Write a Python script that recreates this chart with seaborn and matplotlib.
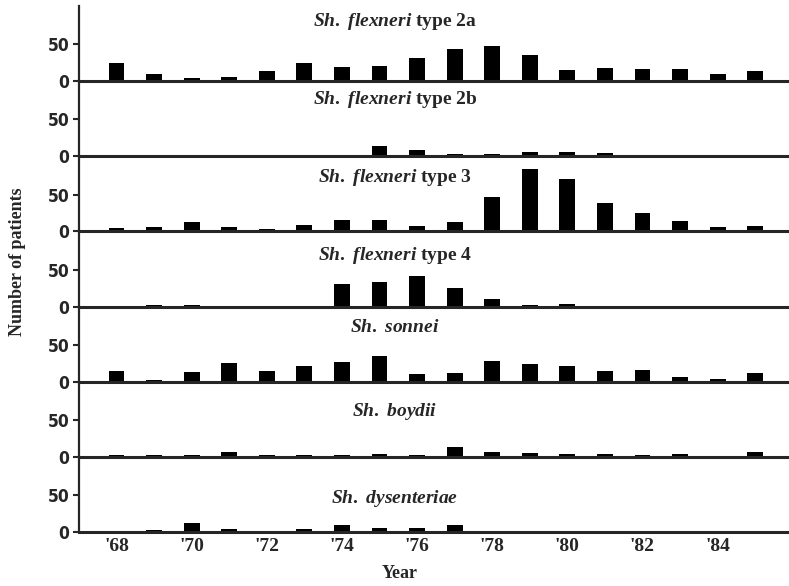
import numpy as np
import pandas as pd
import matplotlib
matplotlib.use("Agg")
import matplotlib.pyplot as plt
import seaborn as sns

years = [1968, 1969, 1970, 1971, 1972, 1973, 1974, 1975, 1976,
         1977, 1978, 1979, 1980, 1981, 1982, 1983, 1984, 1985]

flexneri_2a = [25, 9, 4, 5, 14, 25, 19, 21, 31, 43, 48, 35, 15, 18, 16, 16, 9, 14]
flexneri_2b = [0, 0, 1, 1, 0, 1, 2, 14, 8, 3, 3, 6, 6, 4, 1, 2, 1, 2]
flexneri_3 = [4, 6, 13, 6, 3, 8, 16, 15, 7, 13, 46, 84, 71, 38, 25, 14, 6, 7]
flexneri_4 = [1, 2, 1.5, 1, 0, 1, 31, 33, 41, 25, 10, 2, 3, 0, 0, 1, 0, 0]
sonnei = [14, 2, 13, 25, 14, 22, 27, 35, 11, 12, 28, 24, 21, 14, 16, 6, 4, 12]
boydii = [2, 2, 2, 7, 2, 3, 3, 4, 3, 14, 7, 5, 4, 4, 2, 4, 1, 6]
dysenteriae = [0.5, 3, 12, 4, 1, 4, 9, 6, 5, 9, 2, 2, 0, 0, 0, 0, 0, 0]

series = [flexneri_2a, flexneri_2b, flexneri_3, flexneri_4, sonnei, boydii, dysenteriae]
titles = [r"$\mathit{Sh.\ flexneri}$ type 2a",
          r"$\mathit{Sh.\ flexneri}$ type 2b",
          r"$\mathit{Sh.\ flexneri}$ type 3",
          r"$\mathit{Sh.\ flexneri}$ type 4",
          r"$\mathit{Sh.\ sonnei}$",
          r"$\mathit{Sh.\ boydii}$",
          r"$\mathit{Sh.\ dysenteriae}$"]
title_y = [0.79, 0.75, 0.72, 0.68, 0.72, 0.61, 0.45]

tick_years = [1968, 1970, 1972, 1974, 1976, 1978, 1980, 1982, 1984]
tick_labels = ["'68", "'70", "'72", "'74", "'76", "'78", "'80", "'82", "'84"]

sns.set_style("ticks")
plt.rcParams["font.family"] = ["Liberation Serif", "DejaVu Serif"]
plt.rcParams["mathtext.fontset"] = "custom"
plt.rcParams["mathtext.rm"] = "Liberation Serif:bold"
plt.rcParams["mathtext.it"] = "Liberation Serif:italic:bold"

fig = plt.figure(figsize=(7.89, 5.86), dpi=100)
gs = fig.add_gridspec(7, 1, left=0.100, right=1.0, top=0.990, bottom=0.092, hspace=0)

for i, (vals, title) in enumerate(zip(series, titles)):
    ax = fig.add_subplot(gs[i])
    ax.set_facecolor("none")
    df = pd.DataFrame({"year": years, "n": vals})
    sns.barplot(data=df, x="year", y="n", native_scale=True, color="black",
                width=0.42, errorbar=None, ax=ax, edgecolor="black", linewidth=0)
    ax.set_xlim(1967, 1985.9)
    ax.set_ylim(0, 102)
    ax.set_yticks([0, 50])
    ax.set_yticklabels(["0", "50"], family="DejaVu Sans", fontstretch="condensed",
                       fontweight="bold", fontsize=12.5)
    ax.tick_params(axis="y", length=4, width=1.5, pad=3)
    ax.set_xlabel("")
    ax.set_ylabel("")
    for s in ["top", "right"]:
        ax.spines[s].set_visible(False)
    ax.spines["left"].set_linewidth(1.6)
    ax.spines["bottom"].set_linewidth(2.2)
    ax.text(0.445, title_y[i], title, transform=ax.transAxes, ha="center",
            va="center", fontsize=14, fontweight="bold")
    ax.set_xticks(tick_years)
    if i < len(series) - 1:
        ax.tick_params(axis="x", length=0, labelbottom=False)
    else:
        ax.set_xticklabels(tick_labels, fontsize=14, fontweight="bold")
        ax.tick_params(axis="x", length=0, pad=4)

fig.text(18 / 789, 1 - 262 / 586, "Number of patients", rotation=90,
         ha="center", va="center", fontsize=13, fontweight="bold")
fig.text(400 / 789, 1 - 574 / 586, "Year", ha="center", va="center",
         fontsize=13, fontweight="bold")

fig.savefig("out.png", dpi=100)
